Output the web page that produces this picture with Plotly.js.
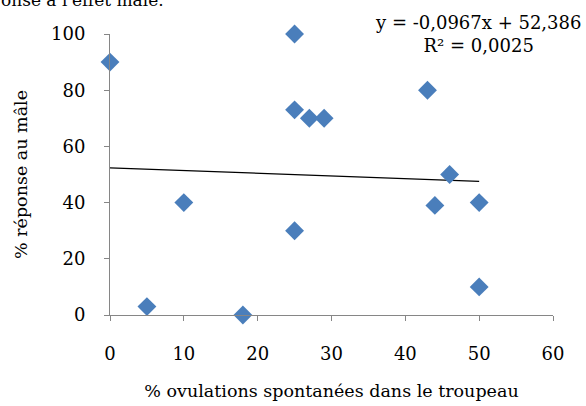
<!DOCTYPE html>
<html>
<head>
<meta charset="utf-8">
<script src="https://cdn.plot.ly/plotly-3.0.1.min.js"></script>
<style>html,body{margin:0;padding:0;background:#fff;}#chart{width:586px;height:406px;}</style>
</head>
<body>
<div id="chart"></div>
<script>
// Data
const ovulations = [0, 5, 10, 18, 25, 25, 27, 29, 25, 43, 46, 44, 50, 50];
const reponse    = [90, 3, 40, 0, 100, 73, 70, 70, 30, 80, 50, 39, 40, 10];
const slope = -0.0967;
const intercept = 52.386;
const trendX = [0, 50];
const trendY = trendX.map(x => slope * x + intercept);
const xTicks = [0, 10, 20, 30, 40, 50, 60];
const yTicks = [0, 20, 40, 60, 80, 100];

const serif = '"DejaVu Serif", "Liberation Serif", serif';

const traces = [
  {
    x: trendX, y: trendY, type: 'scatter', mode: 'lines',
    line: {color: '#000000', width: 1.2}, hoverinfo: 'skip', showlegend: false
  },
  {
    x: ovulations, y: reponse, type: 'scatter', mode: 'markers',
    marker: {symbol: 'diamond', size: 14.5, color: '#4a7ebb'},
    showlegend: false, cliponaxis: false
  }
];

const layout = {
  width: 586, height: 406,
  margin: {l: 110, r: 33, t: 34, b: 91},
  paper_bgcolor: '#ffffff', plot_bgcolor: '#ffffff',
  showlegend: false,
  xaxis: {
    range: [0, 60], tickvals: xTicks, ticktext: xTicks.map(String),
    showgrid: false, zeroline: false, showline: true, linecolor: '#868686', linewidth: 1,
    ticks: 'outside', ticklen: 5, tickcolor: '#868686', ticklabelstandoff: 17,
    tickfont: {family: serif, size: 18, color: '#000'},
    title: {text: '% ovulations spontanées dans le troupeau', font: {family: serif, size: 17.5, color: '#000'}, standoff: 22}
  },
  yaxis: {
    range: [0, 100], tickvals: yTicks, ticktext: yTicks.map(String),
    showgrid: false, zeroline: false, showline: true, linecolor: '#868686', linewidth: 1,
    ticks: 'outside', ticklen: 5, tickcolor: '#868686', ticklabelstandoff: 15,
    tickfont: {family: serif, size: 18, color: '#000'},
    title: {text: '% réponse au mâle', font: {family: serif, size: 17.5, color: '#000'}, standoff: 18}
  },
  annotations: [
    {
      xref: 'paper', yref: 'paper', x: 0.83, y: 1.0, xanchor: 'center', yanchor: 'middle',
      text: 'y = -0,0967x + 52,386<br>R² = 0,0025', showarrow: false, align: 'center',
      font: {family: serif, size: 18, color: '#000'}
    },
    {
      xref: 'paper', yref: 'paper', x: -0.25, y: 1.078, xanchor: 'left', yanchor: 'bottom',
      text: 'onse à l\'effet mâle.', showarrow: false,
      font: {family: serif, size: 17, color: '#000'}
    }
  ]
};

Plotly.newPlot('chart', traces, layout, {displayModeBar: false, staticPlot: true});
</script>
</body>
</html>
